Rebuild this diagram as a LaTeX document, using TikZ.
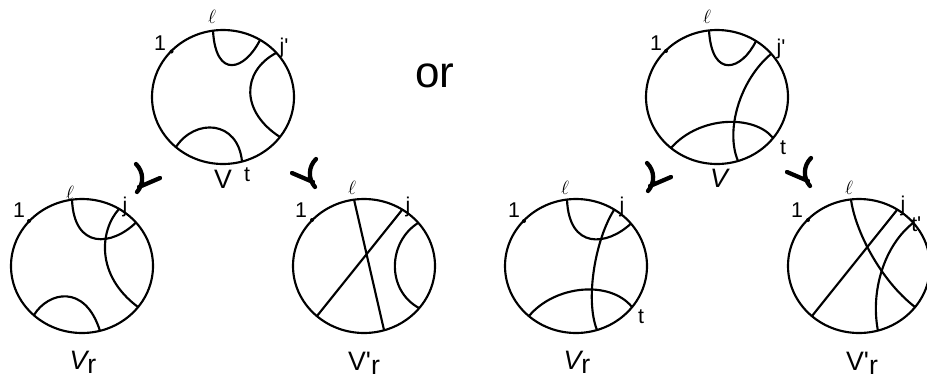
\documentclass[tikz,border=0pt]{standalone}
\usepackage{fontspec}
\setmainfont{Liberation Sans}[Ligatures=TeXOff]
\usetikzlibrary{positioning}

\begin{document}
\begin{tikzpicture}[x=0.75pt, y=-0.75pt,
    rim/.style={line width=1.6pt},
    chord/.style={line width=1.6pt},
    hk/.style={line width=3.2pt, line cap=round},
    num/.style={inner sep=0pt, anchor=base, font=\fontsize{16}{18}\selectfont},
    tag/.style={inner sep=0pt, font=\fontsize{16}{18}\selectfont},
    ell/.style={inner sep=0pt, font=\fontsize{14}{16}\selectfont},
    lab/.style={inner sep=0pt, anchor=base, font=\fontsize{20}{22}\selectfont},
    hook/.pic={\draw[hk] (-10,-14) .. controls (-2,-6) and (-2,6) .. (-9,14) (-7,9) -- (14,0);}]
    \useasboundingbox (0,0) rectangle (927,379);

    % top left: V
    \draw[rim] (223,97) ellipse [x radius=71, y radius=67];
    \fill (171.5,51.5) circle [radius=2];
    \draw[chord] (213,31) .. controls (216,80) and (245,70) .. (260,40);
    \draw[chord] (276,53) .. controls (241,72) and (241,112) .. (280,137);
    \draw[chord] (176,147) .. controls (195,118) and (238,120) .. (242,161.5);
    \node[num] (a1) at (160,50) {1};
    \node[ell] (al) at (212,17) {$\ell$};
    \node[tag] (aj) at (284,48) {j'};
    \node[tag] (at) at (247,175) {t};
    \node[lab] (aV) at (223,188) {V};

    % bottom left: V_r
    \draw[rim] (82,266) ellipse [x radius=71, y radius=67];
    \fill (29,221) circle [radius=2];
    \draw[chord] (72,199.5) .. controls (74,250) and (112,246) .. (136,222.5);
    \draw[chord] (119,209) .. controls (100,230) and (95,275) .. (138,307);
    \draw[chord] (34,315) .. controls (48,292) and (85,283) .. (100,331);
    \node[num] (b1) at (19,217) {1};
    \node[ell] (bl) at (70,193) {$\ell$};
    \node[tag] (bj) at (125,207) {j};
    \node[lab] (bV) at (83,369) {\itshape V\upshape\raisebox{-0.18em}{r}};

    % bottom middle: V'_r
    \draw[rim] (364,266) ellipse [x radius=71, y radius=67];
    \fill (312,220) circle [radius=2];
    \draw[chord] (354,199.5) -- (384,330);
    \draw[chord] (402,210) -- (317,316);
    \draw[chord] (418,223) .. controls (388,242) and (386,290) .. (419,308);
    \node[num] (c1) at (301,217) {1};
    \node[ell] (cl) at (352,188) {$\ell$};
    \node[tag] (cj) at (408,207) {j};
    \node[lab] (cV) at (364,370) {V'\raisebox{-0.18em}{r}};

    \node[inner sep=0pt, font=\fontsize{33}{36}\selectfont] (or) at (435,76) {or};

    % top right: V
    \draw[rim] (717,97) ellipse [x radius=71, y radius=67];
    \fill (666,51) circle [radius=2];
    \draw[chord] (709,30.5) .. controls (712,80) and (742,70) .. (756,41);
    \draw[chord] (771,54) .. controls (740,80) and (725,130) .. (738,161);
    \draw[chord] (671,148) .. controls (700,115) and (755,115) .. (773,138);
    \node[num] (d1) at (656,50) {1};
    \node[ell] (dl) at (707,17) {$\ell$};
    \node[tag] (dj) at (781,49) {j'};
    \node[tag] (dt) at (783,148) {t};
    \node[lab] (dV) at (719,187) {\itshape V};

    % bottom right group: V_r
    \draw[rim] (576,266) ellipse [x radius=71, y radius=67];
    \fill (524,221) circle [radius=2];
    \draw[chord] (567,199.5) .. controls (569,250) and (607,246) .. (631,223.5);
    \draw[chord] (614,210) .. controls (595,240) and (585,300) .. (597,330);
    \draw[chord] (529,316) .. controls (555,285) and (610,280) .. (632,307);
    \node[num] (e1) at (514,217) {1};
    \node[ell] (el) at (565,188) {$\ell$};
    \node[tag] (ej) at (622,207) {j};
    \node[tag] (et) at (641,317) {t};
    \node[lab] (eV) at (577,369) {\itshape V\upshape\raisebox{-0.18em}{r}};

    % far right: V'_r
    \draw[rim] (859,266) ellipse [x radius=71, y radius=67];
    \fill (808,220) circle [radius=2];
    \draw[chord] (851,199.5) .. controls (855,230) and (880,280) .. (915,307);
    \draw[chord] (897,210) -- (812,316);
    \draw[chord] (913,223) .. controls (885,245) and (870,290) .. (878,331);
    \node[num] (f1) at (797,217) {1};
    \node[ell] (fl) at (849,188) {$\ell$};
    \node[tag] (fj) at (903,206) {j};
    \node[tag, anchor=west] (ft) at (911,224) {t'};
    \node[lab] (fV) at (862,370) {V'\raisebox{-0.18em}{r}};

    % hooks
    \pic at (146,178) {hook};
    \pic[xscale=-1] at (306,173) {hook};
    \pic at (657,177) {hook};
    \pic[xscale=-1] at (801,172) {hook};
\end{tikzpicture}
\end{document}
